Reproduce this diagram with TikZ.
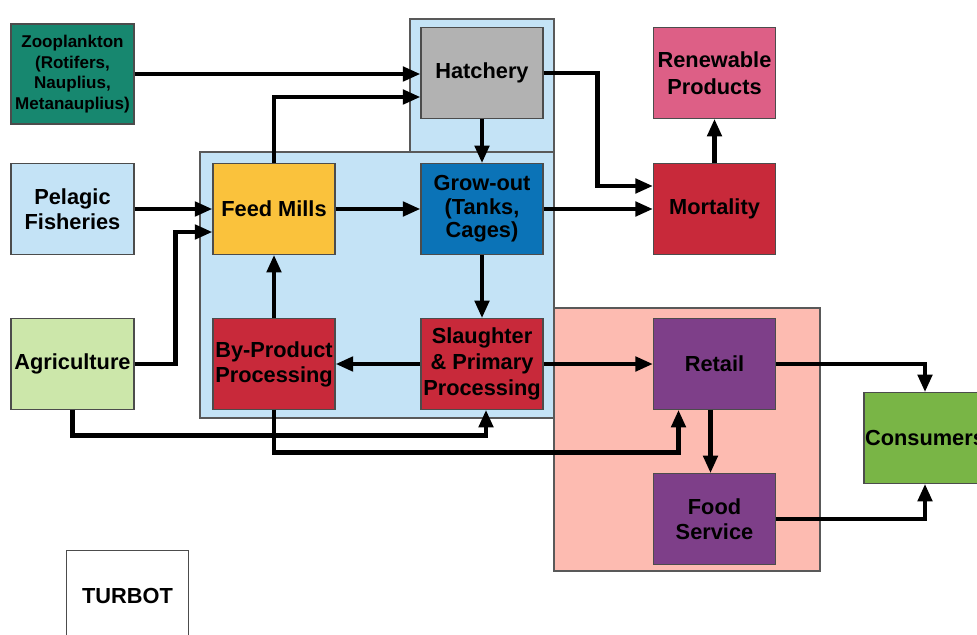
\documentclass[tikz,border=0pt]{standalone}
\usepackage{fontspec}
\setmainfont{Liberation Sans}
\usetikzlibrary{arrows.meta,calc}
\definecolor{zoogreen}{HTML}{17876F}
\definecolor{paleblue}{HTML}{C4E3F6}
\definecolor{palegreen}{HTML}{CCE7AA}
\definecolor{feedyellow}{HTML}{FAC23C}
\definecolor{hatchgray}{HTML}{B2B2B2}
\definecolor{growblue}{HTML}{0B73B7}
\definecolor{procred}{HTML}{C8293A}
\definecolor{renewpink}{HTML}{DD5F86}
\definecolor{salmon}{HTML}{FDBBB1}
\definecolor{shoppurple}{HTML}{7E3F89}
\definecolor{consgreen}{HTML}{79B546}
\begin{document}
\begin{tikzpicture}[x=0.02cm,y=-0.02cm,
    box/.style={draw=black!70, line width=0.6pt, minimum width=2.44cm, minimum height=1.81cm,
        inner sep=0pt, align=center, font=\bfseries\fontsize{12.4}{14.2}\selectfont},
    area/.style={draw=black!65, line width=0.6pt},
    arr/.style={line width=2.8pt, -{Triangle[length=10pt,width=8pt]}}]
    \useasboundingbox (0,0) rectangle (977,635);
    \draw [area, fill=paleblue] (410,19) rectangle (554,152);
    \draw [area, fill=paleblue] (200,152) rectangle (554,418);
    \draw [area, fill=salmon] (554,308) rectangle (820,571);
    \node [box, fill=zoogreen, minimum width=2.46cm, minimum height=2cm, font=\bfseries\fontsize{9.7}{11.7}\selectfont] (zoo) at (72.5,74) {Zooplankton\\(Rotifers,\\Nauplius,\\Metanauplius)};
    \node [box, fill=paleblue, minimum width=2.46cm] (pelagic) at (72.5,209) {Pelagic\\Fisheries};
    \node [box, fill=palegreen, minimum width=2.46cm] (agri) at (72.5,364) {Agriculture};
    \node [box, fill=white] (turbot) at (127.5,596) {TURBOT};
    \node [box, fill=hatchgray] (hatch) at (482,73) {Hatchery};
    \node [box, fill=feedyellow] (feed) at (274,209) {Feed Mills};
    \node [box, fill=growblue, font=\bfseries\fontsize{12.4}{13.4}\selectfont] (grow) at (482,209) {Grow-out\\(Tanks,\\Cages)};
    \node [box, fill=procred] (byprod) at (274,364) {By-Product\\Processing};
    \node [box, fill=procred, font=\bfseries\fontsize{12.4}{14.6}\selectfont] (slaughter) at (482,364) {Slaughter\\\&~Primary\\Processing};
    \node [box, fill=renewpink, font=\bfseries\fontsize{12.4}{15.4}\selectfont] (renew) at (714.5,73) {Renewable\\Products};
    \node [box, fill=procred] (mort) at (714.5,209) {Mortality};
    \node [box, fill=shoppurple] (retail) at (714.5,364) {Retail};
    \node [box, fill=shoppurple] (food) at (714.5,519) {Food\\Service};
    \node [box, fill=consgreen] (cons) at (925,438) {Consumers};
    \draw [arr] (zoo.east) -- (zoo.east -| hatch.west);
    \draw [arr] (feed.north) |- ($(hatch.west)+(0,24)$);
    \draw [arr] (pelagic) -- (feed);
    \draw [arr] (agri.east) -- ++(41,0) |- ($(feed.west)+(0,23)$);
    \draw [arr] (feed) -- (grow);
    \draw [arr] (hatch) -- (grow);
    \draw [arr] (hatch.east) -- ++(54,0) |- ($(mort.west)+(0,-23)$);
    \draw [arr] (grow) -- (mort);
    \draw [arr] (mort) -- (renew);
    \draw [arr] (grow) -- (slaughter);
    \draw [arr] (slaughter) -- (byprod);
    \draw [arr] (byprod) -- (feed);
    \draw [arr] (slaughter) -- (retail);
    \draw [arr] (agri.south) -- ++(0,26) -| ($(slaughter.south)+(4,0)$);
    \draw [arr] (byprod.south) -- ++(0,43) -| ($(retail.south)+(-36,0)$);
    \draw [arr] (retail.east) -| (cons.north);
    \draw [arr] ($(retail.south)+(-4,0)$) -- ($(food.north)+(-4,0)$);
    \draw [arr] (food.east) -| (cons.south);
\end{tikzpicture}
\end{document}
